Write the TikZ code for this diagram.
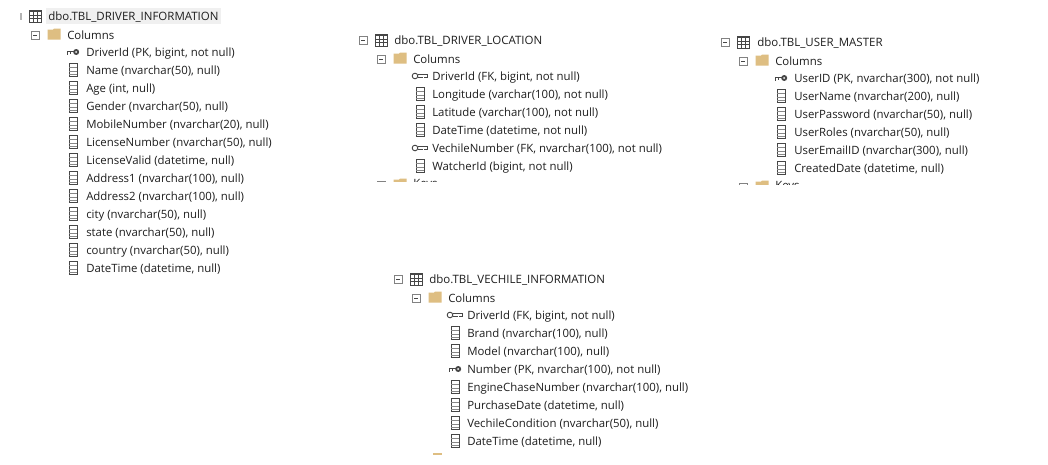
\documentclass[tikz,border=0pt]{standalone}
\usepackage{fontspec}
\setmainfont{Open Sans}
\definecolor{txt}{RGB}{30,30,30}
\definecolor{folder}{RGB}{222,190,130}
\definecolor{glyph}{RGB}{70,70,70}
\definecolor{exp}{RGB}{130,130,130}
\definecolor{hl}{RGB}{240,240,240}
\tikzset{
  x=0.75pt,y=-0.75pt,
  lbl/.style={anchor=west,inner sep=0pt,yshift=-0.8pt,text=txt,font=\fontsize{8.55pt}{10pt}\selectfont},
  ttl/.style={lbl,font=\fontsize{8.62pt}{10pt}\selectfont},
  expbox/.style={draw=exp,line width=0.6pt,fill=white},
}
% expander box
\newcommand{\expd}[2]{%
  \draw[expbox] (#1-4,#2-4) rectangle (#1+4,#2+4);
  \draw[glyph,line width=0.6pt] (#1-2,#2) -- (#1+2,#2);}
% table grid icon
\newcommand{\tblicon}[2]{%
  \draw[glyph,line width=0.7pt] (#1-6,#2-6) rectangle (#1+6,#2+6);
  \draw[glyph,line width=1.3pt] (#1-6,#2-4.5) -- (#1+6,#2-4.5);
  \draw[glyph,line width=0.5pt] (#1-6,#2-1) -- (#1+6,#2-1) (#1-6,#2+2.5) -- (#1+6,#2+2.5)
     (#1-2,#2-6) -- (#1-2,#2+6) (#1+2,#2-6) -- (#1+2,#2+6);}
% folder icon
\newcommand{\foldicon}[2]{%
  \fill[folder] (#1-6.5,#2-4.5) -- (#1-6.5,#2+5.5) -- (#1+6.5,#2+5.5) -- (#1+6.5,#2-5.5) -- (#1+0,#2-5.5) -- (#1-1,#2-4.5) -- cycle;}
% column icon
\newcommand{\colicon}[2]{%
  \draw[glyph,line width=0.6pt] (#1-4,#2-6.5) rectangle (#1+4,#2+6.5);
  \draw[glyph!65,line width=0.5pt] (#1-4,#2-2.5) -- (#1+4,#2-2.5) (#1-4,#2+1) -- (#1+4,#2+1) (#1-4,#2+4) -- (#1+4,#2+4);}
% primary key
\newcommand{\pkicon}[2]{%
  \fill[glyph] (#1+3.2,#2) circle (3);
  \fill[white] (#1+3.2,#2) circle (1);
  \draw[glyph,line width=1.1pt] (#1-6,#2-0.7) -- (#1+1,#2-0.7);
  \draw[glyph,line width=1pt] (#1-5.2,#2-0.7) -- (#1-5.2,#2+2.5) (#1-2.8,#2-0.7) -- (#1-2.8,#2+2);}
% foreign key
\newcommand{\fkicon}[2]{%
  \draw[glyph,line width=0.7pt] (#1-5,#2) circle (2.8);
  \draw[glyph,line width=0.6pt] (#1-2.2,#2-1.2) -- (#1+7,#2-1.2) -- (#1+7,#2+1.2) -- (#1+4,#2+1.2) (#1+2.5,#2+1.2) -- (#1-2.2,#2+1.2);}
\begin{document}
\begin{tikzpicture}
\useasboundingbox (0,0) rectangle (1048,464);
\fill[white] (0,0) rectangle (1048,464);

% ---------- TBL_DRIVER_INFORMATION
\fill[hl] (46,8) rectangle (221,24);
\fill[exp!60] (20,13) rectangle (21.5,20);
\tblicon{35}{16}
\node[ttl] (a0) at (48,16) {dbo.TBL\_DRIVER\_INFORMATION};
\expd{35}{35}
\foldicon{54}{34}
\node[lbl] (a1) at (67,34) {Columns};
\pkicon{73}{52}
\node[lbl] (a2) at (86,52) {DriverId (PK, bigint, not null)};
\foreach \n/\y/\t in {3/70/{Name (nvarchar(50), null)},4/88/{Age (int, null)},5/106/{Gender (nvarchar(50), null)},6/124/{MobileNumber (nvarchar(20), null)},7/142/{LicenseNumber (nvarchar(50), null)},8/160/{LicenseValid (datetime, null)},9/178/{Address1 (nvarchar(100), null)},10/196/{Address2 (nvarchar(100), null)},11/214/{city (nvarchar(50), null)},12/232/{state (nvarchar(50), null)},13/250/{country (nvarchar(50), null)},14/268/{DateTime (datetime, null)}}{
  \colicon{73}{\y}
  \node[lbl] (a\n) at (86,\y) {\t};
}

% ---------- TBL_DRIVER_LOCATION
\expd{363}{40}
\tblicon{381}{40}
\node[ttl] (b0) at (394,40) {dbo.TBL\_DRIVER\_LOCATION};
\expd{381}{59}
\foldicon{400}{58}
\node[lbl] (b1) at (413,58) {Columns};
\fkicon{420}{76}
\node[lbl] (b2) at (432,76) {DriverId (FK, bigint, not null)};
\colicon{420}{94}
\node[lbl] (b3) at (432,94) {Longitude (varchar(100), not null)};
\colicon{420}{112}
\node[lbl] (b4) at (432,112) {Latitude (varchar(100), not null)};
\colicon{420}{130}
\node[lbl] (b5) at (432,130) {DateTime (datetime, not null)};
\fkicon{420}{148}
\node[lbl] (b6) at (432,148) {VechileNumber (FK, nvarchar(100), not null)};
\colicon{420}{166}
\node[lbl] (b7) at (432,166) {WatcherId (bigint, not null)};
\begin{scope}
  \clip (350,175) rectangle (700,181.7);
  \foldicon{400}{184}
  \expd{381}{185}
  \node[lbl] (b8) at (413,184) {Keys};
\end{scope}

% ---------- TBL_USER_MASTER
\expd{725}{42}
\tblicon{743}{42}
\node[ttl] (c0) at (757,42) {dbo.TBL\_USER\_MASTER};
\expd{743}{61}
\foldicon{762}{60}
\node[lbl] (c1) at (775,60) {Columns};
\pkicon{781}{78}
\node[lbl] (c2) at (794,78) {UserID (PK, nvarchar(300), not null)};
\foreach \n/\y/\t in {3/96/{UserName (nvarchar(200), null)},4/114/{UserPassword (nvarchar(50), null)},5/132/{UserRoles (nvarchar(50), null)},6/150/{UserEmailID (nvarchar(300), null)},7/168/{CreatedDate (datetime, null)}}{
  \colicon{781}{\y}
  \node[lbl] (c\n) at (794,\y) {\t};
}
\begin{scope}
  \clip (710,178) rectangle (1000,184);
  \foldicon{762}{186}
  \expd{743}{187}
  \node[lbl] (c8) at (775,186) {Keys};
\end{scope}

% ---------- TBL_VECHILE_INFORMATION
\expd{398}{279}
\tblicon{416}{279}
\node[ttl] (d0) at (429,279) {dbo.TBL\_VECHILE\_INFORMATION};
\expd{416}{298}
\foldicon{435}{297}
\node[lbl] (d1) at (448,297) {Columns};
\fkicon{455}{315}
\node[lbl] (d2) at (467,315) {DriverId (FK, bigint, not null)};
\colicon{455}{333}
\node[lbl] (d3) at (467,333) {Brand (nvarchar(100), null)};
\colicon{455}{351}
\node[lbl] (d4) at (467,351) {Model (nvarchar(100), null)};
\pkicon{455}{369}
\node[lbl] (d5) at (467,369) {Number (PK, nvarchar(100), not null)};
\colicon{455}{387}
\node[lbl] (d6) at (467,387) {EngineChaseNumber (nvarchar(100), null)};
\colicon{455}{405}
\node[lbl] (d7) at (467,405) {PurchaseDate (datetime, null)};
\colicon{455}{423}
\node[lbl] (d8) at (467,423) {VechileCondition (nvarchar(50), null)};
\colicon{455}{441}
\node[lbl] (d9) at (467,441) {DateTime (datetime, null)};
\fill[folder] (433,453) rectangle (442,454.5);
\end{tikzpicture}
\end{document}
